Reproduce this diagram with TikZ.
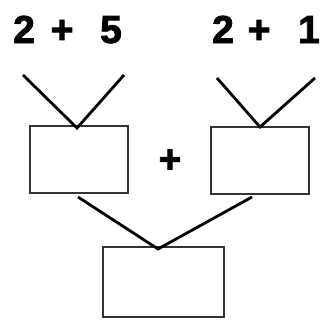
\documentclass[tikz,border=0pt]{standalone}
\usepackage{fontspec}
\setmainfont{Liberation Sans}
\newfontfamily\heavyfont{Liberation Sans Bold}[FakeBold=2.2]
\begin{document}
\begin{tikzpicture}[x=1pt,y=-1pt,
  box/.style={draw=black!80, line width=2.2pt, fill=white, inner sep=0pt},
  leg/.style={draw=black, line width=2.8pt},
  num/.style={font=\fontsize{39}{39}\heavyfont, inner sep=0pt, anchor=base west}]
\useasboundingbox (0,0) rectangle (320,324);
% boxes
\node[box, minimum width=98pt, minimum height=67pt] (L) at (79,159.5) {};
\node[box, minimum width=98pt, minimum height=67pt] (R) at (260,160.5) {};
\node[box, minimum width=121pt, minimum height=70pt] (B) at (163.5,282) {};
% V coordinates
\coordinate (la) at (23,75);
\coordinate (lb) at (124,75);
\coordinate (lapex) at (77,128);
\coordinate (ra) at (217,78);
\coordinate (rb) at (315,78);
\coordinate (rapex) at (260,127);
\coordinate (ba) at (78,197);
\coordinate (bb) at (252,197);
\coordinate (bapex) at (158,249);
\draw[leg, line join=miter] (la) -- (lapex) -- (lb);
\draw[leg, line join=miter] (ra) -- (rapex) -- (rb);
\draw[leg, line join=miter] (ba) -- (bapex) -- (bb);
% texts
\node[num] (t1) at (13,43) {2\hspace{15.8pt}+\hspace{26.7pt}5};
\node[num] (t2) at (212,43) {2\hspace{13.8pt}+\hspace{27.7pt}1};
\node[font=\fontsize{39}{39}\heavyfont, inner sep=0pt] (plus) at (170,161) {+};
\end{tikzpicture}
\end{document}
